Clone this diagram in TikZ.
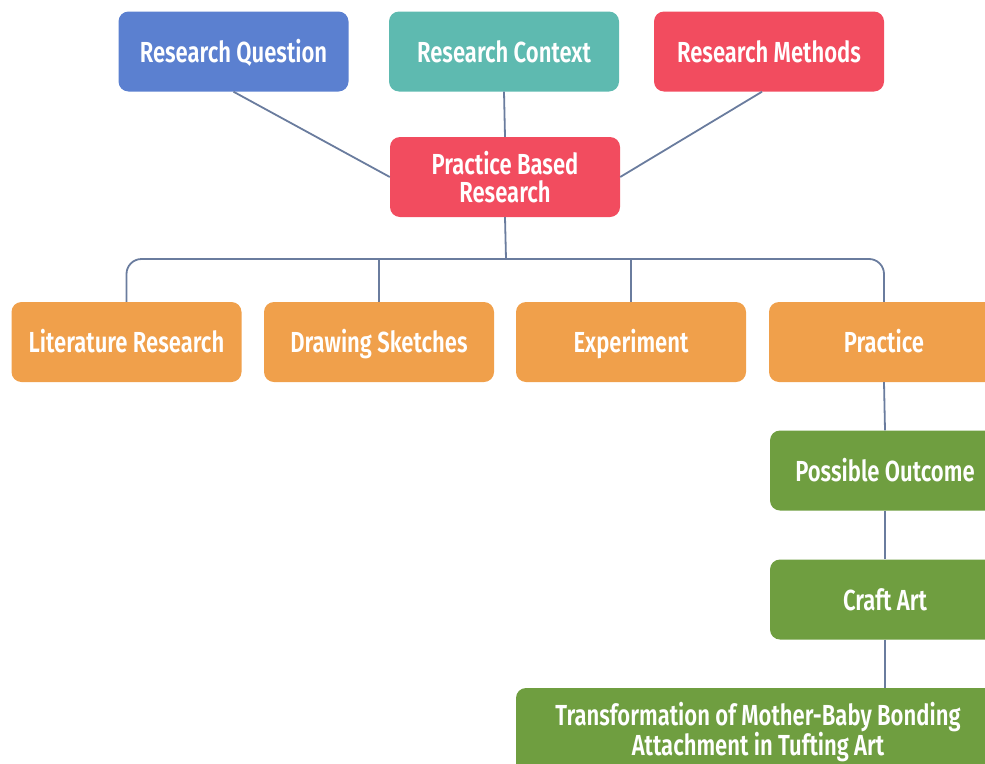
\documentclass[tikz,border=0pt]{standalone}
\usepackage{fontspec}
\setmainfont{Fira Sans}[FakeStretch=0.76,UprightFont=* SemiBold,BoldFont=* Bold]
\usetikzlibrary{positioning}
\definecolor{qblue}{HTML}{5B80D0}
\definecolor{cteal}{HTML}{5EBAB0}
\definecolor{mred}{HTML}{F24C5F}
\definecolor{borange}{HTML}{F0A04B}
\definecolor{ogreen}{HTML}{6F9E40}
\definecolor{linkc}{HTML}{6A7C9E}
\tikzset{
  box/.style={rounded corners=10pt, minimum width=230pt, minimum height=80pt,
    inner sep=0pt, text=white, align=center,
    font=\fontsize{29}{27.5}\selectfont},
  oneline/.style={box, text height=27pt, text depth=6pt},
  link/.style={draw=linkc, line width=1.8pt},
}
\begin{document}
\begin{tikzpicture}[x=1pt,y=-1pt]
\useasboundingbox (0,0) rectangle (985,763);
\clip (0,0) rectangle (985,763);
% top row
\node[oneline, fill=qblue] (rq) at (233.5,51.5) {Research Question};
\node[oneline, fill=cteal] (rc) at (504,51.5) {Research Context};
\node[oneline, fill=mred] (rm) at (769,51.5) {Research Methods};
% centre
\node[box, fill=mred] (pbr) at (505,177) {Practice Based\\Research};
% second row
\node[oneline, fill=borange] (lit) at (126.5,342) {Literature Research};
\node[oneline, fill=borange] (draw) at (379,342) {Drawing Sketches};
\node[oneline, fill=borange] (exp) at (631,342) {Experiment};
\node[oneline, fill=borange] (prac) at (884,342) {Practice};
% outcome chain
\node[oneline, fill=ogreen] (out) at (885,470.5) {Possible Outcome};
\node[oneline, fill=ogreen] (craft) at (885,599.5) {Craft Art};
\node[box, fill=ogreen, minimum width=484pt, minimum height=88pt] (trans) at (758,732) {Transformation of Mother-Baby Bonding\\Attachment in Tufting Art};
% links into the centre node
\draw[link] (rq.south) -- (pbr.west);
\draw[link] (rc.south) -- (pbr.north);
\draw[link] ([xshift=-7pt]rm.south) -- (pbr.east);
% branching bus
\coordinate (bus) at (506,259);
\draw[link] (pbr.south) -- (bus);
\draw[link, rounded corners=15pt] (lit.north) |- (bus) -| (prac.north);
\draw[link] (draw.north) -- (draw.north |- bus);
\draw[link] (exp.north) -- (exp.north |- bus);
% outcome chain links
\draw[link] (prac.south) -- (out.north);
\draw[link] (out.south) -- (craft.north);
\draw[link] (craft.south) -- (craft.south |- trans.north);
\end{tikzpicture}
\end{document}
